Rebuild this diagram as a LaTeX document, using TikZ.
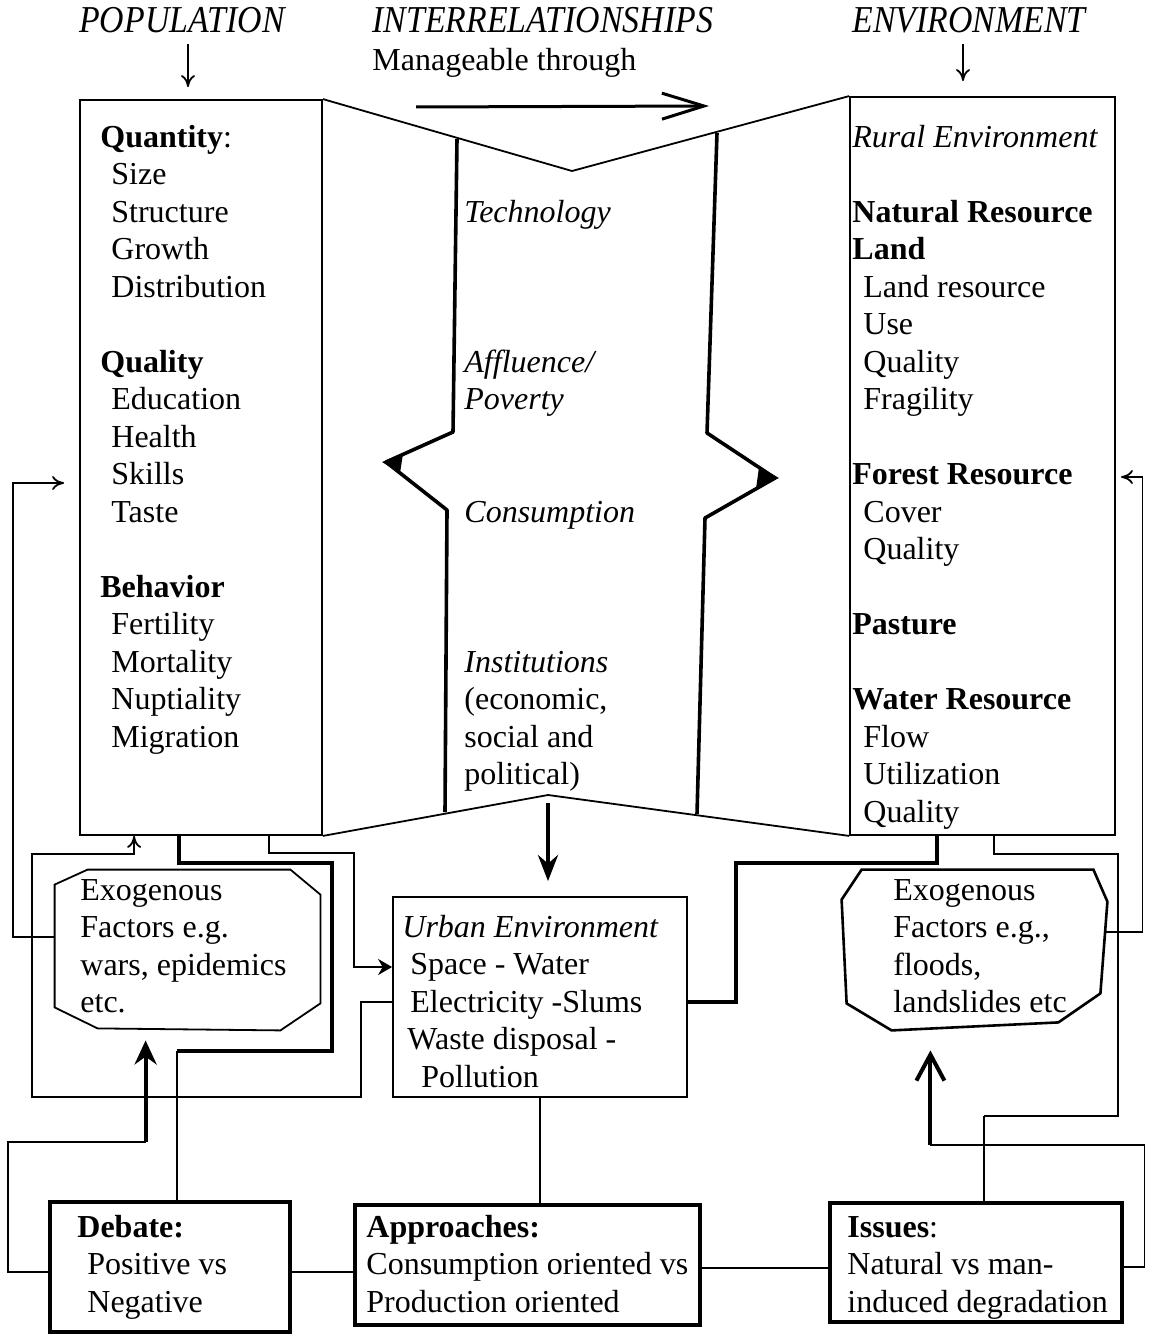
\documentclass[tikz,border=0pt]{standalone}
\usepackage{fontspec}
\setmainfont{Liberation Serif}
\newfontfamily\headfont[FakeStretch=0.89]{Liberation Serif}
\usetikzlibrary{arrows.meta, calc}
\newcommand{\itemind}{\hspace*{5.5pt}}

\begin{document}
\begin{tikzpicture}[
	x=0.5pt, y=-0.5pt,
	font=\fontsize{16}{18.75}\selectfont,
	box/.style={draw, line width=0.9pt, inner sep=0pt},
	keybox/.style={box, line width=2.4pt},
	exo/.style={inner sep=0pt},
	txt/.style={anchor=base west, align=left, inner sep=0pt},
	head/.style={anchor=base, inner sep=0pt, font=\headfont\fontsize{19}{22}\selectfont\itshape},
	link/.style={line width=0.9pt},
	heavy/.style={line width=2pt},
	to/.style={link, -{To[length=6pt,width=7pt]}}
	]

	\useasboundingbox (0,0) rectangle (1152,1337);

	\node[box, minimum width=121pt, minimum height=367.5pt] (popbox) at (201,467.5) {};
	\node[box, minimum width=132.5pt, minimum height=369pt] (envbox) at (982.5,466) {};
	\node[box, minimum width=147pt, minimum height=100pt] (urban) at (540,997) {};
	\node[exo, minimum width=132.5pt, minimum height=80pt] (exoL) at (187.5,950) {};
	\node[exo, minimum width=130pt, minimum height=80pt] (exoR) at (975,950) {};
	\node[keybox, minimum width=120pt, minimum height=65pt] (debate) at (170,1267) {};
	\node[keybox, minimum width=172.5pt, minimum height=60pt] (approach) at (527.5,1265) {};
	\node[keybox, minimum width=146pt, minimum height=59.5pt] (issues) at (976,1262.5) {};

	\draw[line width=0.9pt] ($(exoL.north west)+(0,15)$) -- ($(exoL.north west)+(33,0)$)
		-- ($(exoL.north east)+(-30,0)$) -- ($(exoL.north east)+(0,25)$)
		-- ($(exoL.south east)+(0,-27)$) -- ($(exoL.south east)+(-40,0)$)
		-- ($(exoL.south west)+(43,-2)$) -- ($(exoL.south west)+(0,-23)$) -- cycle;
	\draw[line width=1.3pt] ($(exoR.north west)+(-3,30)$) -- ($(exoR.north west)+(17,0)$)
		-- ($(exoR.north east)+(-12,0)$) -- ($(exoR.north east)+(2,32)$)
		-- ($(exoR.south east)+(-5,-37)$) -- ($(exoR.south east)+(-47,-8)$)
		-- ($(exoR.south west)+(47,0)$) -- ($(exoR.south west)+(2,-27)$) -- cycle;

	\node[head] (popHead) at (182,33) {POPULATION};
	\node[head, anchor=base west] (relHead) at (372,33) {INTERRELATIONSHIPS};
	\node[txt] (manage) at (372,71) {Manageable through};
	\node[head, anchor=base west] (envHead) at (852,33) {ENVIRONMENT};

	\node[txt] (popText) at (100,747) {\textbf{Quantity}:\\
		\itemind Size\\ \itemind Structure\\ \itemind Growth\\ \itemind Distribution\\[18.75pt]
		\textbf{Quality}\\ \itemind Education\\ \itemind Health\\ \itemind Skills\\ \itemind Taste\\[18.75pt]
		\textbf{Behavior}\\ \itemind Fertility\\ \itemind Mortality\\ \itemind Nuptiality\\ \itemind Migration};
	\node[txt] (relText) at (464,784.5) {\textit{Technology}\\[56.25pt]
		\textit{Affluence/}\\ \textit{Poverty}\\[37.5pt]
		\textit{Consumption}\\[56.25pt]
		\textit{Institutions}\\ (economic,\\ social and\\ political)};
	\node[txt] (envText) at (852,822) {\textit{Rural Environment}\\[18.75pt]
		\textbf{Natural Resource}\\ \textbf{Land}\\ \itemind Land resource\\ \itemind Use\\ \itemind Quality\\ \itemind Fragility\\[18.75pt]
		\textbf{Forest Resource}\\ \itemind Cover\\ \itemind Quality\\[18.75pt]
		\textbf{Pasture}\\[18.75pt]
		\textbf{Water Resource}\\ \itemind Flow\\ \itemind Utilization\\ \itemind Quality};
	\node[txt] (exoLText) at (80,1012.5) {Exogenous\\ Factors e.g.\\ wars, epidemics\\ etc.};
	\node[txt] (exoRText) at (893,1012.5) {Exogenous\\ Factors e.g.,\\ floods,\\ landslides etc};
	\node[txt] (urbanText) at (402,1087) {\textit{Urban Environment}\\ \hspace*{4pt}Space - Water\\
		\hspace*{4pt}Electricity -Slums\\ \hspace*{2.5pt}Waste disposal -\\ \hspace*{9.5pt}Pollution};
	\node[txt] (debateText) at (77,1312) {\textbf{Debate:}\\ \hspace*{5pt}Positive vs\\ \hspace*{5pt}Negative};
	\node[txt] (approachText) at (366,1312) {\textbf{Approaches:}\\ Consumption oriented vs\\ Production oriented};
	\node[txt] (issuesText) at (847,1312) {\textbf{Issues}:\\ Natural vs man-\\ induced degradation};

	\coordinate (roofDip) at (572,171);
	\coordinate (floorTop) at (548,795);
	\coordinate (mgL) at (416,107);
	\coordinate (mgR) at (709,106);

	\draw[link] (popbox.north east) -- (roofDip) -- (envbox.north west);
	\draw[link] (popbox.south east) -- (floorTop) -- (envbox.south west);
	\draw[line width=1.8pt, line join=round] (457,139) -- (453,432) -- (386,462) -- (447,510) -- (445,812);
	\draw[line width=1.8pt, line join=round] (717,133) -- (707,433) -- (775,478) -- (705,518) -- (697,814);
	\fill (382,462) -- (403,454) -- (400,473) -- cycle;
	\fill (779,478) -- (759,467) -- (756,489) -- cycle;

	\draw[line width=1.5pt, -{Straight Barb[length=21pt,width=13pt]}] (mgL) -- (mgR);
	\draw[to] ([xshift=-6.5pt]popbox.north |- popHead.south) ++(0,10) -- ([xshift=-6.5pt,yshift=6pt]popbox.north);
	\draw[to] ([xshift=-9.75pt]envbox.north |- envHead.south) ++(0,10) -- ([xshift=-9.75pt,yshift=7.5pt]envbox.north);
	\draw[heavy, -{Stealth[length=13pt,width=10pt]}] ([yshift=-4pt]floorTop) -- ([yshift=7.5pt]floorTop |- urban.north);

	\draw[to] ([yshift=6.5pt]exoL.west) -- ++(-42,0) |- ([xshift=-7.5pt,yshift=-7.75pt]popbox.west);
	\draw[to] ([yshift=-2.5pt]urban.west) -- ++(-31,0) -- ++(0,95) -- ++(-329,0)
		|- ($(popbox.south west)+(55,18)$) -- ($(popbox.south west)+(55,0)$);
	\draw[heavy] ($(popbox.south west)+(100,0)$) |- ++(153,27) |- ++(-155,188) coordinate (dbTop);
	\draw[link] (dbTop) -- (dbTop |- debate.north);
	\draw[link, -{Stealth[length=7pt,width=8pt]}] ($(popbox.south west)+(190,0)$) |- ++(85,17) |- ([yshift=15pt]urban.west);
	\draw[link] ([yshift=-2.5pt]debate.west) -- ++(-40,0) |- ++(138,-130) coordinate (exLup);
	\draw[heavy, -{Stealth[length=12pt,width=11pt]}] (exLup) -- ([yshift=-5pt]exLup |- exoL.south);

	\draw[link] ([yshift=-2.5pt]debate.east) -- ([yshift=-2.5pt]debate.east -| approach.west);
	\draw[link] ([yshift=-1.5pt]approach.east) -- ([yshift=-1.5pt]approach.east -| issues.west);
	\draw[link] (urban.south) -- (urban.south |- approach.north);

	\draw[heavy] ($(envbox.south west)+(88,0)$) |- ++(-201,27) |- ([yshift=-2.5pt]urban.east);
	\draw[link] ($(envbox.south west)+(145,0)$) |- ++(124,18) |- ++(-134,262) coordinate (isTop);
	\draw[link] (isTop) -- (isTop |- issues.north);
	\draw[to] ([yshift=9pt]exoR.east) -- ++(37,0) |- ([xshift=2.5pt,yshift=-5.5pt]envbox.east);
	\draw[link] ([yshift=-2.25pt]issues.east) -- ++(20,0) |- ++(-214,-122) coordinate (exRup);
	\draw[heavy, -{Straight Barb[length=13pt,width=14pt]}] (exRup) -- ([yshift=-10pt]exRup |- exoR.south);

\end{tikzpicture}
\end{document}
